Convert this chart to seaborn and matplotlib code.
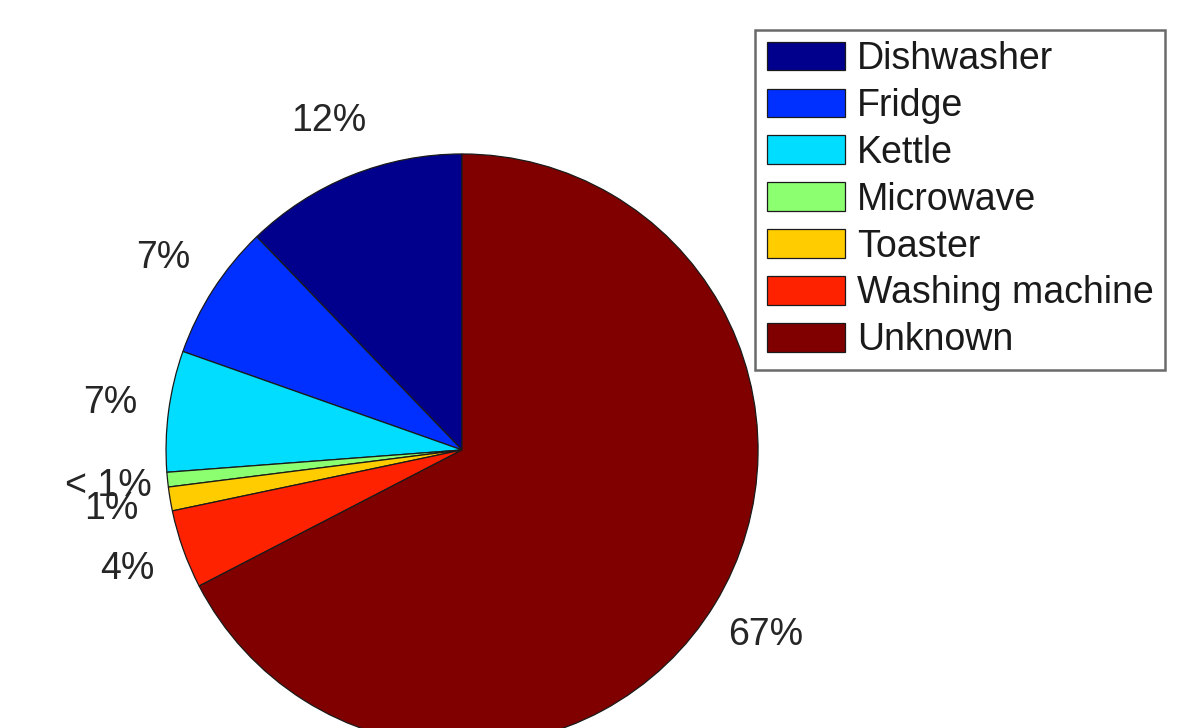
import matplotlib
matplotlib.use("Agg")
import matplotlib.pyplot as plt
import seaborn as sns

# Share of total energy by appliance (percent)
appliances = ["Dishwasher", "Fridge", "Kettle", "Microwave", "Toaster",
              "Washing machine", "Unknown"]
shares = [12.2, 7.4, 6.6, 0.8, 1.3, 4.3, 67.4]
slice_colors = ["#00008C", "#0030FF", "#00DDFF", "#8CFF70", "#FFCC00",
                "#FF2200", "#800000"]

sns.set_theme(style="white")
plt.rcParams["font.family"] = ["Liberation Sans", "DejaVu Sans"]

fig = plt.figure(figsize=(11.97, 7.28), dpi=100)
# square axes holding a unit-radius pie
ax = fig.add_axes([0.1387, -0.0247, 0.4946, 0.8132])


def pct_label(p):
    return "< 1%" if p < 1 else f"{round(p)}%"


wedges, _, pct_texts = ax.pie(
    shares,
    colors=sns.color_palette(slice_colors),
    startangle=90,
    counterclock=True,
    autopct=pct_label,
    pctdistance=1.2,
    radius=1.0,
    wedgeprops=dict(edgecolor="#1a1a1a", linewidth=0.9),
    textprops=dict(fontsize=27, color="#262626"),
)
ax.set_xlim(-1, 1)
ax.set_ylim(-1, 1)
ax.set_aspect("equal")
ax.axis("off")

leg = fig.legend(
    wedges, appliances,
    loc="upper right",
    bbox_to_anchor=(0.973, 0.959),
    fontsize=27,
    frameon=True,
    fancybox=False,
    edgecolor="#6a6a6a",
    framealpha=1,
    handlelength=2.1,
    handleheight=0.8,
    handletextpad=0.3,
    labelspacing=0.29,
    borderpad=0.3,
    borderaxespad=0,
)
leg.get_frame().set_linewidth(1.8)
for t in leg.get_texts():
    t.set_color("#1a1a1a")

fig.savefig("out.png", dpi=100)
